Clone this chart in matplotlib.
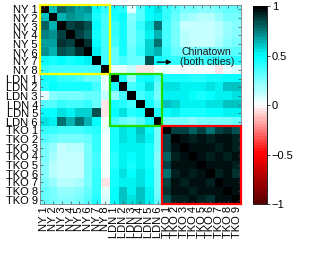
import numpy as np
import matplotlib.pyplot as plt
from matplotlib.colors import LinearSegmentedColormap
from matplotlib.patches import Rectangle

plt.rcParams['font.family'] = ['Liberation Sans', 'DejaVu Sans']

labels = ['NY %d' % i for i in range(1, 9)] + \
         ['LDN %d' % i for i in range(1, 7)] + \
         ['TKO %d' % i for i in range(1, 10)]

# lower triangle of the correlation matrix, one row per station
ny_rows = [
    [1],
    [.60, 1],
    [.80, .65, 1],
    [.72, .70, .85, 1],
    [.68, .66, .90, .85, 1],
    [.70, .65, .82, .80, .88, 1],
    [.47, .45, .48, .46, .47, .50, 1],
    [.38, .36, .35, .36, .35, .36, .35, 1],
]
ldn_rows = [
    [.45, .45, .40, .40, .35, .30, .30, .05, 1],
    [.42, .48, .45, .45, .45, .45, .35, .05, .45, 1],
    [.05, .22, .28, .25, .25, .30, .30, .10, .20, .35, 1],
    [.32, .33, .40, .37, .37, .38, .30, -.06, .45, .42, .35, 1],
    [.47, .47, .55, .52, .58, .57, .82, -.04, .48, .55, .42, .45, 1],
    [.55, .52, .75, .65, .78, .65, .47, .00, .35, .30, .25, .32, .45, 1],
]
tko_rows = [
    [.38, .38, .35, .35, .35, .38, .42, .05, .45, .55, .50, .60, .48, .28, 1],
    [.32, .30, .25, .25, .25, .30, .40, .03, .45, .55, .50, .58, .50, .25, .85, 1],
    [.25, .20, .12, .15, .15, .28, .38, .02, .45, .50, .50, .52, .45, .25, .85, .95, 1],
    [.25, .18, .10, .12, .12, .25, .35, .02, .42, .52, .48, .50, .45, .22, .80, .93, .95, 1],
    [.22, .15, .10, .10, .12, .25, .35, .03, .42, .50, .45, .52, .45, .25, .85, .95, .94, .96, 1],
    [.22, .15, .10, .10, .12, .28, .38, .03, .45, .55, .48, .55, .48, .25, .78, .93, .96, .92, .95, 1],
    [.25, .20, .15, .15, .18, .28, .38, -.05, .45, .52, .50, .55, .48, .25, .85, .95, .93, .94, .95, .93, 1],
    [.30, .25, .20, .20, .22, .30, .40, .05, .48, .60, .50, .60, .52, .28, .88, .96, .95, .93, .94, .95, .96, 1],
    [.30, .25, .22, .22, .25, .32, .42, .08, .48, .60, .55, .62, .50, .30, .82, .93, .92, .94, .93, .90, .94, .95, 1],
]

rows = ny_rows + ldn_rows + tko_rows
n = len(rows)
corr = np.zeros((n, n))
for i, r in enumerate(rows):
    corr[i, :len(r)] = r
corr = corr + corr.T - np.diag(np.diag(corr))

# dark red -> red -> white -> cyan -> black
cmap = LinearSegmentedColormap.from_list(
    'rwcb', [(0, (0.35, 0, 0)), (0.25, (1, 0, 0)), (0.5, (1, 1, 1)),
             (0.75, (0, 1, 1)), (1, (0, 0, 0))], N=64)

fig = plt.figure(figsize=(3.1, 2.6), dpi=100)
ax = fig.add_axes([0.129, 0.215, 0.648, 0.766])
im = ax.imshow(corr, cmap=cmap, vmin=-1, vmax=1, aspect='auto',
               interpolation='nearest')

ax.set_xticks(range(n))
ax.set_yticks(range(n))
ax.set_xticklabels(labels, rotation=90, fontsize=8)
ax.set_yticklabels(labels, fontsize=8)
ax.tick_params(direction='in', length=2.5, width=0.5, top=True, right=True,
               pad=1.5, color='0.3')
for s in ax.spines.values():
    s.set_color('0.5')
    s.set_linewidth(0.6)

# blocks per city
ax.add_patch(Rectangle((-0.5, -0.5), 8, 8, fill=False, ec='#ffff00', lw=1.6,
                       clip_on=False, zorder=3))
ax.add_patch(Rectangle((7.5, 7.5), 6, 6, fill=False, ec='#22dd00', lw=1.6,
                       clip_on=False, zorder=3))
ax.add_patch(Rectangle((13.5, 13.5), 9, 9, fill=False, ec='#ff0000', lw=1.6,
                       clip_on=False, zorder=3))

ax.annotate('', xy=(14.9, 6.1), xytext=(12.6, 6.1),
            arrowprops=dict(arrowstyle='-|>', color='black', lw=0.9,
                            mutation_scale=7))
ax.text(18.6, 5.5, 'Chinatown\n(both cities)', ha='center', va='center',
        fontsize=7.6, linespacing=1.05, color='0.1')

cax = fig.add_axes([0.816, 0.215, 0.045, 0.762])
cb = fig.colorbar(im, cax=cax, ticks=[1, 0.5, 0, -0.5, -1])
cb.ax.set_yticklabels(['1', '0.5', '0', '\u22120.5', '\u22121'])
cb.ax.tick_params(labelsize=8, length=2, width=0.5, pad=1.5)
cb.outline.set_linewidth(0.6)

fig.savefig('out.png', dpi=100)
